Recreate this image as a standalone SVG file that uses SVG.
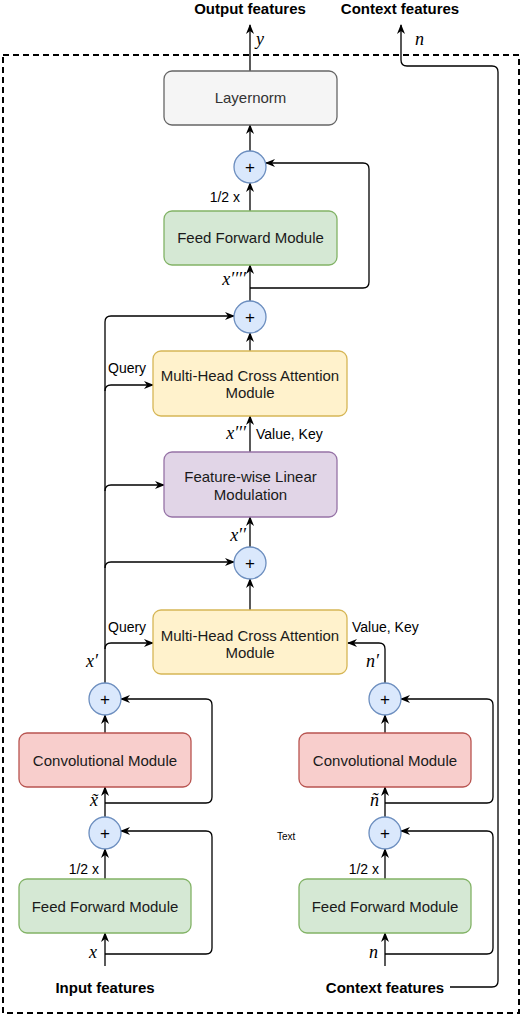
<svg xmlns="http://www.w3.org/2000/svg" width="522" height="1016" viewBox="0 0 522 1016">
<style>
.box{stroke-width:1.3}
.lb{font-family:"Liberation Sans",Arial,sans-serif;font-size:15px;fill:#1a1a1a;text-anchor:middle}
.sm{font-family:"Liberation Sans",Arial,sans-serif;font-size:14px;fill:#000}
.bd{font-family:"Liberation Sans",Arial,sans-serif;font-size:15px;font-weight:bold;fill:#000;text-anchor:middle}
.m{font-family:"Liberation Serif","DejaVu Serif",serif;font-style:italic;font-size:18px;fill:#000}
.c{fill:#dae8fc;stroke:#6c8ebf;stroke-width:1.3}
.pl{font-family:"Liberation Sans",Arial,sans-serif;font-size:17px;fill:#000;text-anchor:middle}
.e{fill:none;stroke:#000;stroke-width:1.3;marker-end:url(#a)}
.l{fill:none;stroke:#000;stroke-width:1.3}
</style>
<defs>
<marker id="a" viewBox="0 0 10 8" refX="9" refY="4" markerWidth="10" markerHeight="8" markerUnits="userSpaceOnUse" orient="auto">
<path d="M0,0 L10,4 L0,8 L3,4 z" fill="#000"/>
</marker>
</defs>
<rect x="3" y="55" width="516" height="958" fill="none" stroke="#000" stroke-width="2" stroke-dasharray="6 4"/>
<text class="bd" x="250" y="14">Output features</text>
<text class="bd" x="400" y="14">Context features</text>
<text class="bd" x="105" y="993">Input features</text>
<text class="bd" x="385" y="993">Context features</text>
<g id="connectors">
<path class="e" d="M250,71 L250,25"/>
<path class="e" d="M450,987 L492,987 Q498,987 498,981 L498,72 Q498,66 492,66 L407,66 Q401,66 401,60 L401,25"/>
<path class="e" d="M250,151 L250,125"/>
<path class="e" d="M250,288 L363,288 Q369,288 369,282 L369,169 Q369,163 363,163 L266,163"/>
<path class="e" d="M250,211 L250,183"/>
<path class="e" d="M250,301 L250,265"/>
<path class="e" d="M250,351 L250,333"/>
<path class="e" d="M105,683 L105,322 Q105,316 111,316 L234,316"/>
<path class="e" d="M105,391 Q105,385 111,385 L153,385"/>
<path class="e" d="M250,452 L250,416"/>
<path class="e" d="M105,491 Q105,485 111,485 L164,485"/>
<path class="e" d="M250,547 L250,517"/>
<path class="e" d="M105,568 Q105,562 111,562 L234,562"/>
<path class="e" d="M250,610 L250,579"/>
<path class="e" d="M105,649 Q105,643 111,643 L153,643"/>
<path class="e" d="M385,683 L385,649 Q385,643 379,643 L348,643"/>
<path class="e" d="M105,733 L105,715"/>
<path class="e" d="M105,803 L206,803 Q212,803 212,797 L212,705 Q212,699 206,699 L121,699"/>
<path class="e" d="M105,817 L105,787"/>
<path class="e" d="M105,954 L206,954 Q212,954 212,948 L212,837 Q212,831 206,831 L121,831"/>
<path class="e" d="M105,879 L105,849"/>
<path class="e" d="M105,966 L105,933"/>
<path class="e" d="M385,733 L385,715"/>
<path class="e" d="M385,803 L487,803 Q493,803 493,797 L493,705 Q493,699 487,699 L401,699"/>
<path class="e" d="M385,817 L385,787"/>
<path class="e" d="M385,954 L487,954 Q493,954 493,948 L493,837 Q493,831 487,831 L401,831"/>
<path class="e" d="M385,879 L385,849"/>
<path class="e" d="M385,966 L385,933"/>
</g>
<g id="layernorm"><rect class="box" x="164" y="71" width="173" height="54" rx="8" fill="#f5f5f5" stroke="#666"/><text class="lb" x="250.5" y="103" fill="#333" style="fill:#333">Layernorm</text></g>
<g id="add1"><circle class="c" cx="250" cy="167" r="16"/><text class="pl" x="250" y="173">+</text></g>
<g id="ff_top"><rect class="box" x="164" y="211" width="173" height="54" rx="8" fill="#d5e8d4" stroke="#82b366"/><text class="lb" x="250.5" y="243">Feed Forward Module</text></g>
<g id="add2"><circle class="c" cx="250" cy="317" r="16"/><text class="pl" x="250" y="323">+</text></g>
<g id="mhca1"><rect class="box" x="153" y="351" width="194" height="65" rx="8" fill="#fff2cc" stroke="#d6b656"/><text class="lb" x="250" y="381">Multi-Head Cross Attention</text><text class="lb" x="250" y="398">Module</text></g>
<g id="film"><rect class="box" x="164" y="452" width="173" height="65" rx="8" fill="#e1d5e7" stroke="#9673a6"/><text class="lb" x="250.5" y="482">Feature-wise Linear</text><text class="lb" x="250.5" y="500">Modulation</text></g>
<g id="add3"><circle class="c" cx="250" cy="563" r="16"/><text class="pl" x="250" y="569">+</text></g>
<g id="mhca2"><rect class="box" x="153" y="610" width="194" height="64" rx="8" fill="#fff2cc" stroke="#d6b656"/><text class="lb" x="250" y="641">Multi-Head Cross Attention</text><text class="lb" x="250" y="658">Module</text></g>
<g id="addL1"><circle class="c" cx="105" cy="699" r="16"/><text class="pl" x="105" y="705">+</text></g>
<g id="convL"><rect class="box" x="19" y="733" width="172" height="54" rx="8" fill="#f8cecc" stroke="#b85450"/><text class="lb" x="105" y="766">Convolutional Module</text></g>
<g id="addL2"><circle class="c" cx="105" cy="833" r="16"/><text class="pl" x="105" y="839">+</text></g>
<g id="ffL"><rect class="box" x="19" y="879" width="172" height="54" rx="8" fill="#d5e8d4" stroke="#82b366"/><text class="lb" x="105" y="912">Feed Forward Module</text></g>
<g id="addR1"><circle class="c" cx="385" cy="699" r="16"/><text class="pl" x="385" y="705">+</text></g>
<g id="convR"><rect class="box" x="299" y="733" width="172" height="54" rx="8" fill="#f8cecc" stroke="#b85450"/><text class="lb" x="385" y="766">Convolutional Module</text></g>
<g id="addR2"><circle class="c" cx="385" cy="833" r="16"/><text class="pl" x="385" y="839">+</text></g>
<g id="ffR"><rect class="box" x="299" y="879" width="172" height="54" rx="8" fill="#d5e8d4" stroke="#82b366"/><text class="lb" x="385" y="912">Feed Forward Module</text></g>
<g id="labels">
<text class="m" x="256" y="45">y</text>
<text class="m" x="415" y="45">n</text>
<text class="sm" x="240" y="202" text-anchor="end">1/2 x</text>
<text class="m" x="246" y="285" text-anchor="end">x′′′′</text>
<text class="sm" x="108" y="373">Query</text>
<text class="m" x="246" y="439" text-anchor="end">x′′′</text>
<text class="sm" x="256" y="439">Value, Key</text>
<text class="m" x="246" y="541" text-anchor="end">x′′</text>
<text class="sm" x="108" y="632">Query</text>
<text class="sm" x="352" y="632">Value, Key</text>
<text class="m" x="98" y="667" text-anchor="end">x′</text>
<text class="m" x="379" y="667" text-anchor="end">n′</text>
<text class="m" x="98" y="806" text-anchor="end">x̃</text>
<text class="m" x="379" y="806" text-anchor="end">ñ</text>
<text class="sm" x="99" y="874" text-anchor="end">1/2 x</text>
<text class="sm" x="379" y="874" text-anchor="end">1/2 x</text>
<text class="m" x="97" y="958" text-anchor="end">x</text>
<text class="m" x="378" y="958" text-anchor="end">n</text>
<text x="277" y="840" style="font-family:'Liberation Sans',Arial,sans-serif;font-size:10px;fill:#000">Text</text>
</g>
</svg>
